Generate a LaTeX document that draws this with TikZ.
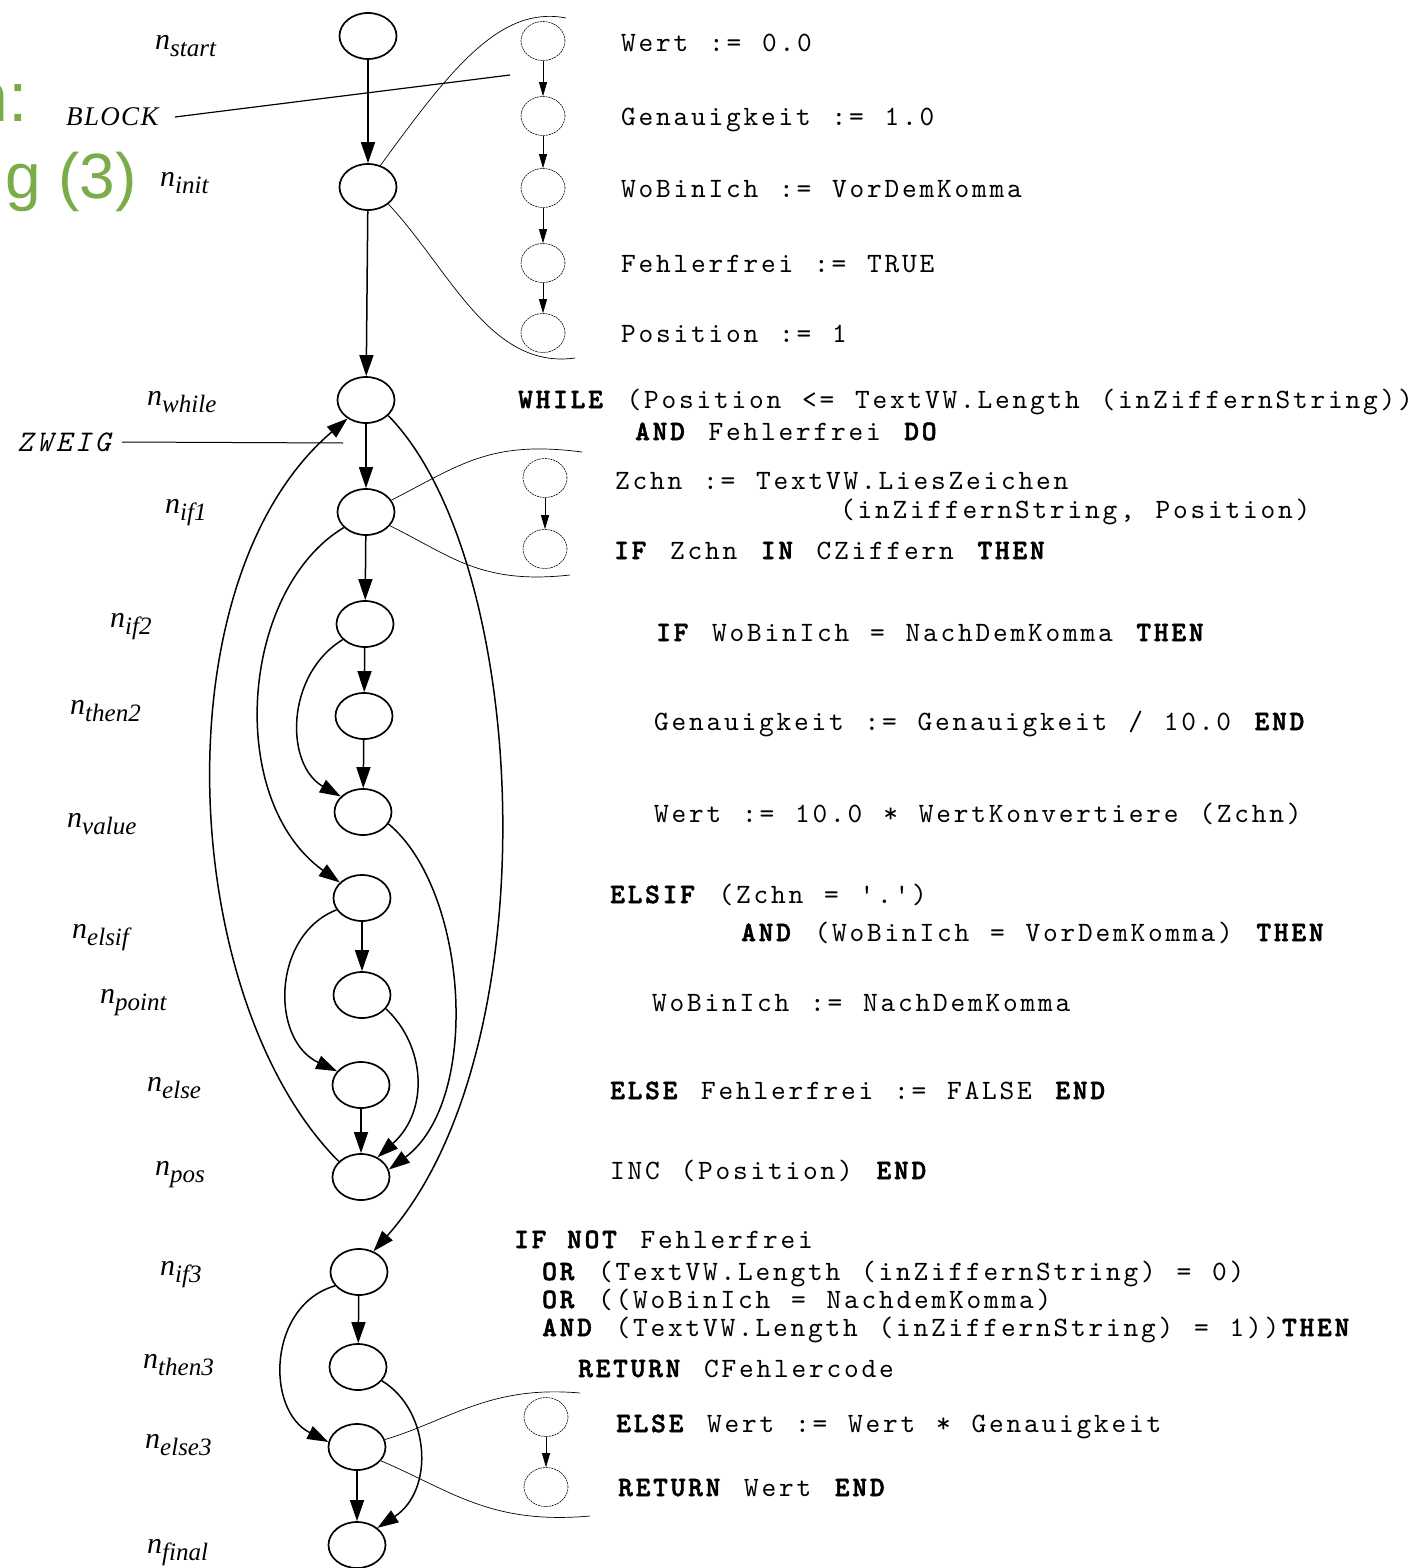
\documentclass[tikz,border=0pt]{standalone}
\usepackage{fontspec}
\usetikzlibrary{shapes.geometric,arrows.meta}
\newfontfamily\codefont{lmmono10-regular.otf}[BoldFont=lmmonolt10-bold.otf,BoldFeatures={FakeBold=2},LetterSpace=10,WordSpace=1.19]
\newfontfamily\zweigfont{lmmono10-italic.otf}[LetterSpace=12]
\newfontfamily\titlefont{Liberation Sans}
\newfontfamily\labfont{Liberation Serif}
\newfontfamily\blockfont{Liberation Serif}[LetterSpace=5]
\definecolor{titlegreen}{RGB}{122,172,74}
\newcommand\nlab[1]{{\labfont\itshape n}\raisebox{-7pt}{\labfont\itshape\fontsize{25}{25}\selectfont #1}}
\newcommand\kw[1]{\textbf{#1}}
\begin{document}
\begin{tikzpicture}[x=1pt,y=-1pt,
  bignode/.style={draw, ellipse, line width=1.7pt, minimum width=57pt, minimum height=46pt, inner sep=0pt},
  smallnode/.style={draw, ellipse, line width=0.6pt, dash pattern=on 2pt off 0.8pt, minimum width=44pt, minimum height=39pt, inner sep=0pt},
  flowarrow/.style={line width=1.5pt, -{Triangle[length=21pt,width=14pt]}},
  subarrow/.style={line width=0.7pt, -{Triangle[length=14pt,width=8pt]}},
  hull/.style={line width=0.7pt},
  nlabel/.style={anchor=base west, font=\fontsize{30}{30}\selectfont, inner sep=0pt},
  codeline/.style={anchor=base west, font=\codefont\fontsize{28}{28}\selectfont, inner sep=0pt},
]
\useasboundingbox[fill=white] (0,0) rectangle (1418,1568);

% title fragments
\node[anchor=base east, inner sep=0pt, text=titlegreen, font=\titlefont\fontsize{70}{70}\selectfont] (t1) at (28,122) {n:};
\node[anchor=base east, inner sep=0pt, text=titlegreen, font=\titlefont\fontsize{64}{64}\selectfont] (t2) at (137,198) {g (3)};

% main nodes
\node[bignode] (nstart) at (368,36) {};
\node[bignode] (ninit) at (368,187) {};
\node[bignode] (nwhile) at (366,400) {};
\node[bignode] (nif1) at (366,512) {};
\node[bignode] (nif2) at (365,624) {};
\node[bignode] (nthen2) at (364,716) {};
\node[bignode] (nvalue) at (363,812) {};
\node[bignode] (nelsif) at (362,898) {};
\node[bignode] (npoint) at (362,995) {};
\node[bignode] (nelse) at (361,1085) {};
\node[bignode] (npos) at (361,1177) {};
\node[bignode] (nif3) at (359,1272) {};
\node[bignode] (nthen3) at (358,1367) {};
\node[bignode] (nelse3) at (357,1447) {};
\node[bignode] (nfinal) at (357,1545) {};

% labels
\node[nlabel] (lstart) at (155,50) {\nlab{start}};
\node[nlabel] (linit) at (160,186) {\nlab{init}};
\node[nlabel] (lwhile) at (147,405) {\nlab{while}};
\node[nlabel] (lif1) at (165,513) {\nlab{if1}};
\node[nlabel] (lif2) at (110,627) {\nlab{if2}};
\node[nlabel] (lthen2) at (70,714) {\nlab{then2}};
\node[nlabel] (lvalue) at (67,827) {\nlab{value}};
\node[nlabel] (lelsif) at (72,938) {\nlab{elsif}};
\node[nlabel] (lpoint) at (100,1003) {\nlab{point}};
\node[nlabel] (lelse) at (147,1091) {\nlab{else}};
\node[nlabel] (lpos) at (155,1175) {\nlab{pos}};
\node[nlabel] (lif3) at (160,1275) {\nlab{if3}};
\node[nlabel] (lthen3) at (143,1368) {\nlab{then3}};
\node[nlabel] (lelse3) at (145,1448) {\nlab{else3}};
\node[nlabel] (lfinal) at (147,1553) {\nlab{final}};

\node[anchor=base west, inner sep=0pt, font=\blockfont\itshape\fontsize{27}{27}\selectfont] (lblock) at (66,126) {BLOCK};
\node[anchor=base west, inner sep=0pt, font=\zweigfont\fontsize{30}{30}\selectfont] (lzweig) at (17,451) {ZWEIG};
\coordinate (blockstart) at (175,117);
\coordinate (blockend) at (510,75);
\coordinate (zweigstart) at (122,442);
\coordinate (zweigend) at (343,443);
\draw[line width=1.2pt] (blockstart) -- (blockend);
\draw[line width=1.0pt] (zweigstart) -- (zweigend);

% straight flow arrows
\draw[flowarrow] (nstart) -- (ninit);
\draw[flowarrow] (ninit) -- (nwhile);
\draw[flowarrow] (nwhile) -- (nif1);
\draw[flowarrow] (nif1) -- (nif2);
\draw[flowarrow] (nif2) -- (nthen2);
\draw[flowarrow] (nthen2) -- (nvalue);
\draw[flowarrow] (nelsif) -- (npoint);
\draw[flowarrow] (nelse) -- (npos);
\draw[flowarrow] (nif3) -- (nthen3);
\draw[flowarrow] (nelse3) -- (nfinal);

% curved flow arrows
\draw[flowarrow] (npos.145) .. controls (178,1000) and (158,580) .. (nwhile.225);
\draw[flowarrow] (nwhile.-35) .. controls (530,560) and (552,1050) .. (nif3.55);
\draw[flowarrow] (nvalue.-25) .. controls (468,890) and (482,1100) .. (npos.15);
\draw[flowarrow] (npoint.-30) .. controls (425,1045) and (430,1110) .. (npos.50);
\draw[flowarrow] (nif1.215) .. controls (240,590) and (225,800) .. (nelsif.145);
\draw[flowarrow] (nif2.215) .. controls (285,675) and (285,765) .. (nvalue.145);
\draw[flowarrow] (nelsif.205) .. controls (272,935) and (270,1040) .. (nelse.150);
\draw[flowarrow] (nif3.210) .. controls (268,1305) and (265,1410) .. (nelse3.170);
\draw[flowarrow] (nthen3.-30) .. controls (430,1410) and (435,1490) .. (nfinal.40);

% block 1 expansion
\node[smallnode] (b1a) at (543,41) {};
\node[smallnode] (b1b) at (543,116) {};
\node[smallnode] (b1c) at (543,188) {};
\node[smallnode] (b1d) at (543,263) {};
\node[smallnode] (b1e) at (543,333) {};
\draw[subarrow] (b1a) -- (b1b);
\draw[subarrow] (b1b) -- (b1c);
\draw[subarrow] (b1c) -- (b1d);
\draw[subarrow] (b1d) -- (b1e);
\coordinate (h1a) at (566,18);
\coordinate (h1b) at (575,358);
\draw[hull] (ninit.60) .. controls (450,70) and (500,5) .. (h1a);
\draw[hull] (ninit.-40) .. controls (450,270) and (490,370) .. (h1b);

% block 2 expansion
\node[smallnode] (b2a) at (545,478) {};
\node[smallnode] (b2b) at (545,549) {};
\draw[subarrow] (b2a) -- (b2b);
\coordinate (h2a) at (582,452);
\coordinate (h2b) at (570,575);
\draw[hull] (nif1.25) .. controls (460,465) and (490,440) .. (h2a);
\draw[hull] (nif1.-30) .. controls (450,555) and (480,585) .. (h2b);

% block 3 expansion
\node[smallnode] (b3a) at (546,1417) {};
\node[smallnode] (b3b) at (546,1487) {};
\draw[subarrow] (b3a) -- (b3b);
\coordinate (h3a) at (580,1393);
\coordinate (h3b) at (590,1516);
\draw[hull] (nelse3.15) .. controls (450,1420) and (490,1385) .. (h3a);
\draw[hull] (nelse3.-30) .. controls (450,1490) and (490,1525) .. (h3b);

% code
\node[codeline] (c1) at (621,52) {Wert := 0.0};
\node[codeline] (c2) at (621,126) {Genauigkeit := 1.0};
\node[codeline] (c3) at (621,197) {WoBinIch := VorDemKomma};
\node[codeline] (c4) at (621,272) {Fehlerfrei := TRUE};
\node[codeline] (c5) at (621,342) {Position := 1};
\node[codeline] (c6) at (518,408) {\kw{WHILE} (Position <= TextVW.Length (inZiffernString))};
\node[codeline] (c7) at (635,440) {\kw{AND} Fehlerfrei \kw{DO}};
\node[codeline] (c8) at (615,489) {Zchn := TextVW.LiesZeichen};
\node[codeline] (c9) at (840,518) {(inZiffernString, Position)};
\node[codeline] (c10) at (614,559) {\kw{IF} Zchn \kw{IN} CZiffern \kw{THEN}};
\node[codeline] (c11) at (656,641) {\kw{IF} WoBinIch = NachDemKomma \kw{THEN}};
\node[codeline] (c12) at (654,730) {Genauigkeit := Genauigkeit / 10.0 \kw{END}};
\node[codeline] (c13) at (654,822) {Wert := 10.0 * WertKonvertiere (Zchn)};
\node[codeline] (c14) at (610,903) {\kw{ELSIF} (Zchn = '.')};
\node[codeline] (c15) at (741,941) {\kw{AND} (WoBinIch = VorDemKomma) \kw{THEN}};
\node[codeline] (c16) at (652,1011) {WoBinIch := NachDemKomma};
\node[codeline] (c17) at (610,1099) {\kw{ELSE} Fehlerfrei := FALSE \kw{END}};
\node[codeline] (c18) at (610,1179) {INC (Position) \kw{END}};
\node[codeline] (c19) at (514,1248) {\kw{IF NOT} Fehlerfrei};
\node[codeline] (c20) at (542,1280) {\kw{OR} (TextVW.Length (inZiffernString) = 0)};
\node[codeline] (c21) at (542,1308) {\kw{OR} ((WoBinIch = NachdemKomma)};
\node[codeline] (c22) at (542,1336) {\kw{AND} (TextVW.Length (inZiffernString) = 1))\kw{THEN}};
\node[codeline] (c23) at (578,1377) {\kw{RETURN} CFehlercode};
\node[codeline] (c24) at (616,1432) {\kw{ELSE} Wert := Wert * Genauigkeit};
\node[codeline] (c25) at (618,1496) {\kw{RETURN} Wert \kw{END}};
\end{tikzpicture}
\end{document}
